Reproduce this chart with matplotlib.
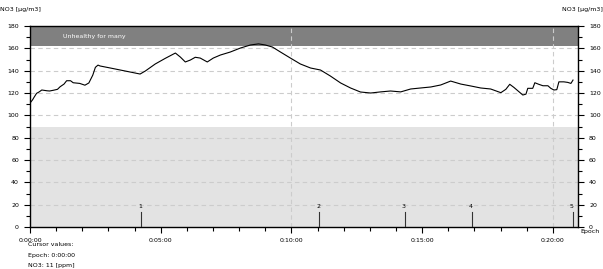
import matplotlib.pyplot as plt
from matplotlib.ticker import MultipleLocator, FuncFormatter

# dados (tempo em minutos, valor em ug/m3)
tempo = [0.00, 0.10, 0.15, 0.25, 0.35, 0.45, 0.65, 0.75, 0.90, 1.05, 1.15, 1.30, 1.40,
         1.55, 1.65, 1.90, 2.10, 2.25, 2.40, 2.50, 2.60, 2.68, 3.07, 3.45, 3.83, 4.21,
         4.41, 4.79, 5.17, 5.56, 5.75, 5.94, 6.13, 6.32, 6.51, 6.78, 7.01, 7.28, 7.66,
         8.05, 8.43, 8.74, 9.00, 9.27, 9.58, 9.96, 10.34, 10.73, 11.11, 11.49, 11.88,
         12.26, 12.64, 13.03, 13.41, 13.79, 14.18, 14.56, 14.94, 15.33, 15.71, 16.09,
         16.48, 16.86, 17.24, 17.62, 18.01, 18.20, 18.35, 18.51, 18.70, 18.85, 18.97,
         19.04, 19.23, 19.31, 19.46, 19.62, 19.81, 19.92, 20.04, 20.15, 20.23, 20.42,
         20.57, 20.69, 20.77]
valores = [111, 114, 116, 119.7, 121, 122.7, 122, 121.8, 122.5, 123.3, 125.6, 128, 131,
           131, 129.2, 128.6, 127, 129, 136, 143, 145, 144.2, 142.4, 140.6, 138.8, 137,
           139.7, 146, 151, 155.8, 152.2, 147.8, 149.5, 152, 151.3, 147.8, 151.3, 154, 156.7,
           160.3, 163, 164, 163, 161.2, 156.7, 151.3, 146, 142.4, 140.6, 135.2, 129,
           124.5, 120.9, 120, 121, 121.8, 121, 123.6, 124.5, 125.4, 127.2, 130.7,
           128, 126.3, 124.5, 123.6, 120.3, 123.3, 127.8, 125, 121.2, 118.2, 119,
           124.2, 124.2, 129.2, 127.8, 126.5, 126.5, 124.2, 122.7, 123, 130, 130,
           129.5, 128.6, 131.6]

# marcadores de eventos
eventos = [4.25, 11.07, 14.33, 16.9, 20.77]
nomesEventos = ['1', '2', '3', '4', '5']

# faixas de referencia
faixaEscura = (162, 180)
faixaClara = (0, 90)
textoFaixa = 'Unhealthy for many'
rotuloY = 'NO3 [\u00b5g/m3]'

fig = plt.figure(figsize=(6.03, 2.69), dpi=100)
ax = fig.add_axes([0.0498, 0.1561, 0.9087, 0.7472])

xmax = 20.96
ax.set_xlim(0, xmax)
ax.set_ylim(0, 180)

ax.axhspan(faixaClara[0], faixaClara[1], color='#e3e3e3', zorder=0, lw=0)
ax.axhspan(faixaEscura[0], faixaEscura[1], color='#808080', zorder=0, lw=0)
ax.text(1.25, 171, textoFaixa, color='white', fontsize=4.5, va='center', ha='left')

# grade
for v in range(20, 180, 20):
    ax.axhline(v, color='#cccccc', ls=(0, (4, 3)), lw=0.8, zorder=1)
for t in [10, 20]:
    ax.axvline(t, color='#cccccc', ls=(0, (4, 3)), lw=0.8, zorder=1)

ax.plot(tempo, valores, color='black', lw=0.8, zorder=3)

for t, n in zip(eventos, nomesEventos):
    ax.plot([t, t], [0, 13], color='#333333', lw=0.8, zorder=3)
    ax.text(t - 0.05, 16, n, fontsize=4.5, ha='center', va='bottom')

# eixos
for s in ['top', 'right', 'left', 'bottom']:
    ax.spines[s].set_linewidth(1.0)

ax.yaxis.set_major_locator(MultipleLocator(20))
ax.yaxis.set_minor_locator(MultipleLocator(10))
ax.xaxis.set_major_locator(MultipleLocator(5))
ax.xaxis.set_minor_locator(MultipleLocator(1))
ax.xaxis.set_major_formatter(FuncFormatter(lambda x, p: '0:%02d:00' % int(round(x))))
ax.yaxis.set_major_formatter(FuncFormatter(lambda y, p: '%d' % y))
ax.tick_params(which='both', direction='out', labelsize=4.5, width=0.8,
               right=True, labelright=True)
ax.tick_params(which='major', length=4, pad=4)
ax.tick_params(which='minor', length=3)

fig.text(0.0, 0.96, rotuloY, fontsize=4.5, ha='left')
fig.text(1.0, 0.96, rotuloY, fontsize=4.5, ha='right')
fig.text(0.995, 0.135, 'Epoch', fontsize=4.5, ha='right')
fig.text(0.046, 0.085, 'Cursor values:', fontsize=4.5)
fig.text(0.046, 0.045, 'Epoch: 0:00:00', fontsize=4.5)
fig.text(0.046, 0.008, 'NO3: 11 [ppm]', fontsize=4.5)

fig.savefig('out.png', dpi=100)
